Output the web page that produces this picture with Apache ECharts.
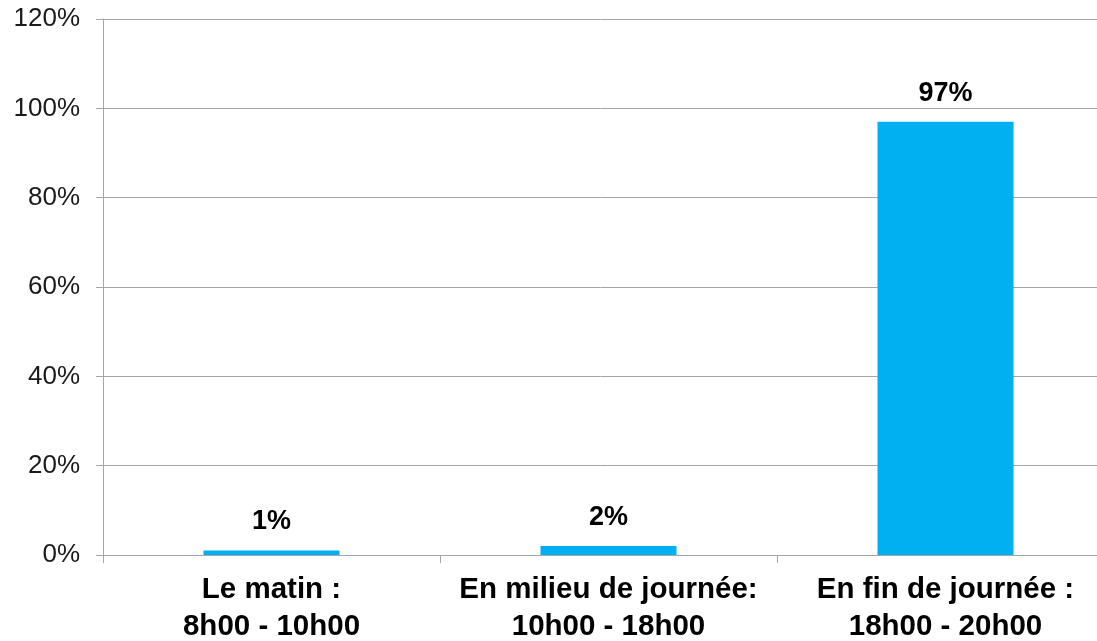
<!DOCTYPE html>
<html>
<head>
<meta charset="utf-8">
<script src="https://cdn.jsdelivr.net/npm/echarts@6/dist/echarts.min.js"></script>
<style>
html,body{margin:0;padding:0;background:#fff;}
#chart{width:1097px;height:641px;}
</style>
</head>
<body>
<div id="chart"></div>
<script>
const categories = ["Le matin :\n8h00 - 10h00", "En milieu de journée:\n10h00 - 18h00", "En fin de journée :\n18h00 - 20h00"];
const values = [1, 2, 97];
const yTicks = { min: 0, max: 120, interval: 20 };

const chart = echarts.init(document.getElementById('chart'), null, { renderer: 'canvas' });
chart.setOption({
  animation: false,
  backgroundColor: '#ffffff',
  grid: { left: 103, top: 19, width: 1011, height: 536, containLabel: false, outerBoundsMode: 'none' },
  xAxis: {
    type: 'category',
    data: categories,
    axisLine: { show: true, lineStyle: { color: '#a6a6a6', width: 1 } },
    axisTick: { show: true, length: 8, alignWithLabel: false, lineStyle: { color: '#a6a6a6' } },
    axisLabel: {
      interval: 0,
      margin: 16,
      color: '#000000',
      fontFamily: 'Liberation Sans, Arial, sans-serif',
      fontWeight: 'bold',
      fontSize: 29.5,
      lineHeight: 37
    }
  },
  yAxis: {
    type: 'value',
    min: yTicks.min, max: yTicks.max, interval: yTicks.interval,
    axisLine: { show: true, lineStyle: { color: '#a6a6a6', width: 1 } },
    axisTick: { show: true, length: 7, lineStyle: { color: '#a6a6a6' } },
    splitLine: { show: true, lineStyle: { color: '#a6a6a6', width: 1 } },
    axisLabel: {
      margin: 23,
      color: '#1a1a1a',
      fontFamily: 'Liberation Sans, Arial, sans-serif',
      fontSize: 26,
      formatter: v => v + '%'
    }
  },
  series: [{
    type: 'bar',
    data: values,
    barWidth: 136,
    itemStyle: { color: '#00b0f0' },
    label: {
      show: true,
      position: 'top',
      distance: 15,
      color: '#000000',
      fontFamily: 'Liberation Sans, Arial, sans-serif',
      fontWeight: 'bold',
      fontSize: 27,
      formatter: p => p.value + '%'
    }
  }]
});
</script>
</body>
</html>
